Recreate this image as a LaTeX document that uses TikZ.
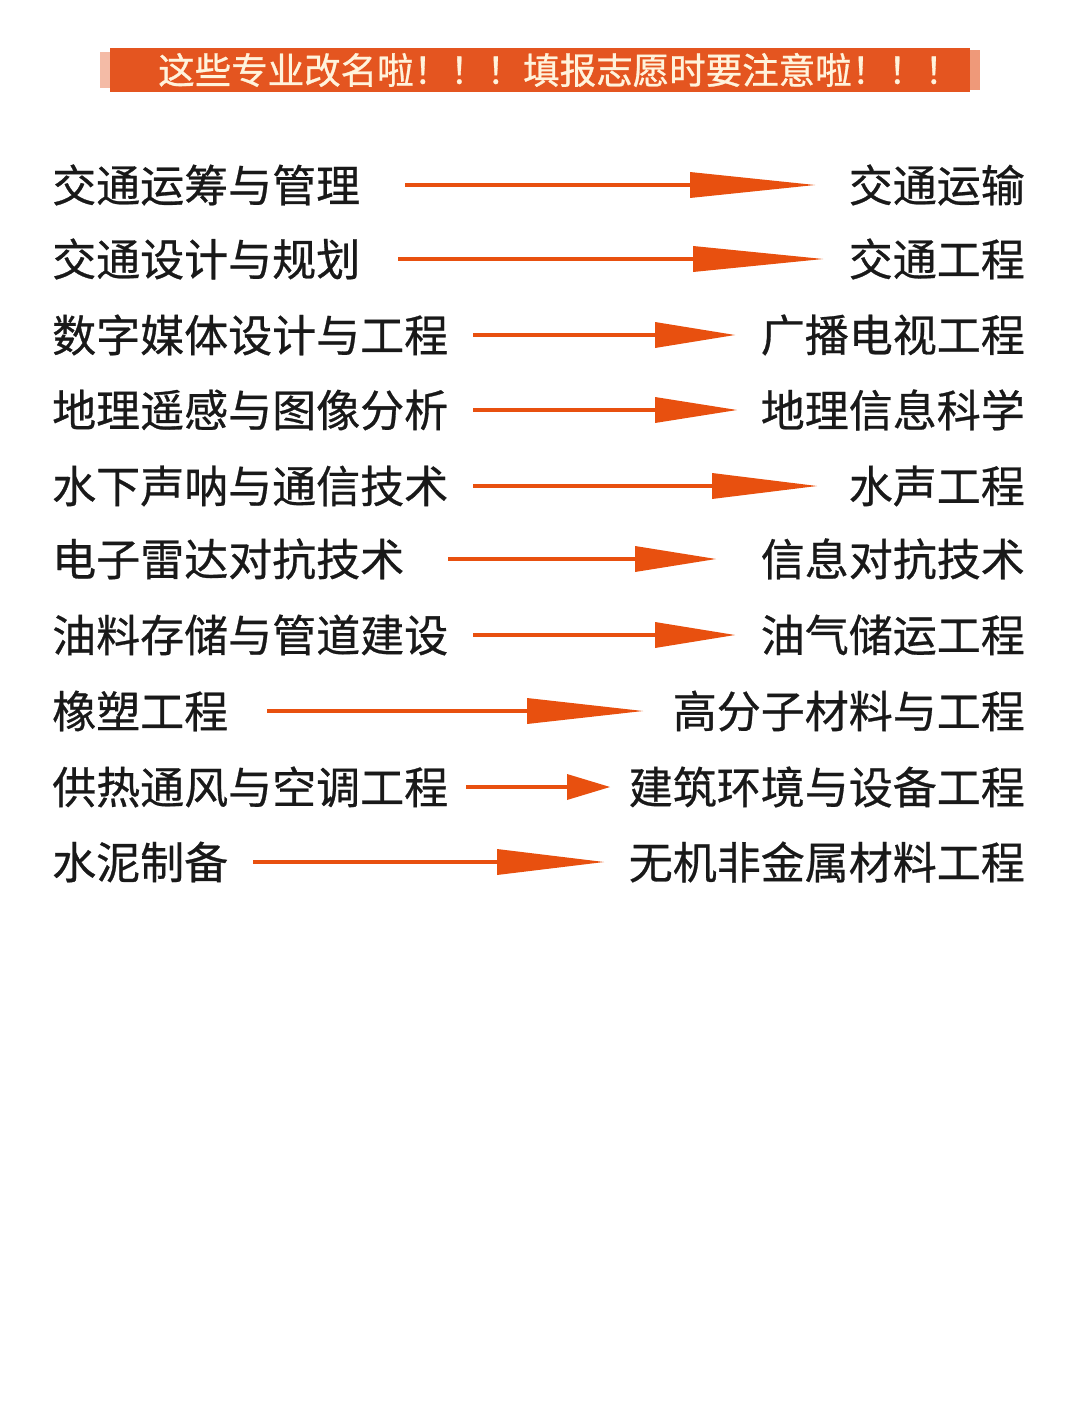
\documentclass[tikz,border=0pt]{standalone}
\usepackage{fontspec}
\setmainfont[FakeBold=0.6]{Noto Sans CJK SC}
\newfontfamily\hdfont[FakeBold=0.8]{Noto Sans CJK SC}
\begin{document}
\begin{tikzpicture}[x=1pt,y=-1pt,
  lbl/.style={inner sep=0pt,font=\fontsize{44}{44}\selectfont,text=black!90},
  ln/.style={draw=arr,line width=4pt},
  hd/.style={fill=arr}]
\definecolor{arr}{HTML}{E8500F}
\definecolor{band}{HTML}{E45520}
\definecolor{cream}{HTML}{FFF3DC}
\useasboundingbox[fill=white] (0,0) rectangle (1080,1415);
\fill[band!40] (100,52) rectangle (118,88);
\fill[band!60] (960,50) rectangle (980,90);
\fill[band] (110,48) rectangle (970,92);
\node[inner sep=0pt,anchor=west,text=cream,font=\hdfont\fontsize{36.5}{36.5}\selectfont] (hdr) at (158,70) {这些专业改名啦！！！填报志愿时要注意啦！！！};
\foreach \i/\y/\l/\r/\s/\h/\t in {
 1/185/交通运筹与管理/交通运输/405/690/815,
 2/259/交通设计与规划/交通工程/398/693/823,
 3/335/数字媒体设计与工程/广播电视工程/473/655/735,
 4/410/地理遥感与图像分析/地理信息科学/473/655/737,
 5/486/水下声呐与通信技术/水声工程/473/712/817,
 6/559/电子雷达对抗技术/信息对抗技术/448/635/716,
 7/635/油料存储与管道建设/油气储运工程/473/655/735,
 8/711/橡塑工程/高分子材料与工程/267/527/643,
 9/787/供热通风与空调工程/建筑环境与设备工程/466/567/610,
 10/862/水泥制备/无机非金属材料工程/253/497/604}{
  \node[lbl,anchor=west] (L\i) at (52,\y) {\l};
  \node[lbl,anchor=east] (R\i) at (1025,\y) {\r};
  \coordinate (s\i) at (\s,\y);
  \coordinate (h\i) at (\h,\y);
  \coordinate (t\i) at (\t,\y);
  \draw[ln] (s\i) -- (h\i);
  \fill[hd] ([yshift=-13pt]h\i) -- (t\i) -- ([yshift=13pt]h\i) -- cycle;
}
\end{tikzpicture}
\end{document}
